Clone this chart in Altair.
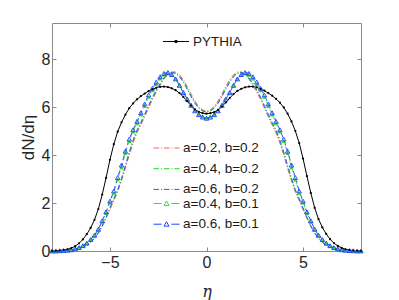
import altair as alt
import pandas as pd

# ---------------- data ----------------
ETA = [round(-8 + 0.2 * i, 1) for i in range(81)]

PYTHIA = [0.00, 0.01, 0.02, 0.04, 0.07, 0.12, 0.20, 0.32, 0.48, 0.70,
          0.96, 1.30, 1.75, 2.35, 3.05, 3.80, 4.45, 4.97, 5.36, 5.68,
          5.95, 6.15, 6.32, 6.45, 6.56, 6.66, 6.74, 6.80, 6.84, 6.85,
          6.83, 6.78, 6.70, 6.58, 6.42, 6.24, 6.06, 5.90, 5.80, 5.74,
          5.72,
          5.74, 5.79, 5.88, 6.02, 6.19, 6.37, 6.54, 6.67, 6.76, 6.82,
          6.85, 6.85, 6.82, 6.76, 6.68, 6.58, 6.47, 6.34, 6.18, 5.98,
          5.72, 5.40, 5.00, 4.50, 3.85, 3.12, 2.42, 1.80, 1.33, 0.98,
          0.71, 0.49, 0.33, 0.21, 0.13, 0.07, 0.04, 0.02, 0.01, 0.00]

A02_B02 = [0.00, 0.00, 0.00, 0.01, 0.02, 0.04, 0.06, 0.10, 0.16, 0.24,
           0.36, 0.52, 0.74, 1.02, 1.36, 1.73, 2.10, 2.46, 2.93, 3.44,
           4.00, 4.50, 4.92, 5.25, 5.59, 5.95, 6.31, 6.62, 6.91, 7.16,
           7.36, 7.46, 7.46, 7.35, 7.14, 6.86, 6.54, 6.25, 6.02, 5.88,
           5.83,
           5.88, 6.02, 6.25, 6.54, 6.86, 7.14, 7.35, 7.46, 7.46, 7.36,
           7.16, 6.91, 6.62, 6.31, 5.95, 5.59, 5.25, 4.92, 4.50, 4.00,
           3.44, 2.93, 2.46, 2.10, 1.73, 1.36, 1.02, 0.74, 0.52, 0.36,
           0.24, 0.16, 0.10, 0.06, 0.04, 0.02, 0.01, 0.00, 0.00, 0.00]

A04_B02 = [0.00, 0.00, 0.00, 0.01, 0.02, 0.04, 0.06, 0.10, 0.16, 0.25,
           0.37, 0.53, 0.75, 1.03, 1.38, 1.76, 2.14, 2.50, 2.98, 3.50,
           4.06, 4.56, 4.98, 5.30, 5.64, 6.00, 6.36, 6.66, 6.94, 7.18,
           7.36, 7.44, 7.42, 7.30, 7.08, 6.80, 6.48, 6.20, 5.98, 5.85,
           5.80,
           5.85, 5.98, 6.20, 6.48, 6.80, 7.08, 7.30, 7.42, 7.44, 7.36,
           7.18, 6.94, 6.66, 6.36, 6.00, 5.64, 5.30, 4.98, 4.56, 4.06,
           3.50, 2.98, 2.50, 2.14, 1.76, 1.38, 1.03, 0.75, 0.53, 0.37,
           0.25, 0.16, 0.10, 0.06, 0.04, 0.02, 0.01, 0.00, 0.00, 0.00]

A06_B02 = [0.00, 0.00, 0.00, 0.01, 0.02, 0.04, 0.07, 0.11, 0.17, 0.26,
           0.38, 0.55, 0.77, 1.05, 1.41, 1.79, 2.18, 2.55, 3.03, 3.56,
           4.12, 4.62, 5.04, 5.36, 5.70, 6.06, 6.41, 6.71, 6.98, 7.21,
           7.38, 7.44, 7.40, 7.26, 7.03, 6.74, 6.43, 6.16, 5.95, 5.83,
           5.78,
           5.83, 5.95, 6.16, 6.43, 6.74, 7.03, 7.26, 7.40, 7.44, 7.38,
           7.21, 6.98, 6.71, 6.41, 6.06, 5.70, 5.36, 5.04, 4.62, 4.12,
           3.56, 3.03, 2.55, 2.18, 1.79, 1.41, 1.05, 0.77, 0.55, 0.38,
           0.26, 0.17, 0.11, 0.07, 0.04, 0.02, 0.01, 0.00, 0.00, 0.00]

A04_B01 = [0.00, 0.00, 0.01, 0.02, 0.03, 0.05, 0.09, 0.14, 0.21, 0.32,
           0.46, 0.64, 0.88, 1.22, 1.58, 2.02, 2.42, 2.98, 3.48, 4.08,
           4.58, 4.98, 5.32, 5.68, 6.04, 6.42, 6.70, 6.95, 7.18, 7.34,
           7.40, 7.34, 7.18, 6.92, 6.62, 6.36, 6.10, 5.86, 5.70, 5.60,
           5.55,
           5.60, 5.70, 5.86, 6.10, 6.36, 6.62, 6.92, 7.18, 7.34, 7.40,
           7.34, 7.18, 6.95, 6.70, 6.42, 6.04, 5.68, 5.32, 4.98, 4.58,
           4.08, 3.48, 2.98, 2.42, 2.02, 1.58, 1.22, 0.88, 0.64, 0.46,
           0.32, 0.21, 0.14, 0.09, 0.05, 0.03, 0.02, 0.01, 0.00, 0.00]

A06_B01 = [0.00, 0.00, 0.01, 0.02, 0.03, 0.05, 0.09, 0.14, 0.22, 0.33,
           0.48, 0.66, 0.91, 1.26, 1.63, 2.08, 2.50, 3.06, 3.58, 4.16,
           4.66, 5.05, 5.40, 5.76, 6.13, 6.50, 6.78, 7.04, 7.26, 7.40,
           7.44, 7.35, 7.17, 6.90, 6.60, 6.33, 6.07, 5.84, 5.68, 5.58,
           5.53,
           5.58, 5.68, 5.84, 6.07, 6.33, 6.60, 6.90, 7.17, 7.35, 7.44,
           7.40, 7.26, 7.04, 6.78, 6.50, 6.13, 5.76, 5.40, 5.05, 4.66,
           4.16, 3.58, 3.06, 2.50, 2.08, 1.63, 1.26, 0.91, 0.66, 0.48,
           0.33, 0.22, 0.14, 0.09, 0.05, 0.03, 0.02, 0.01, 0.00, 0.00]

SERIES = ["a=0.2, b=0.2", "a=0.4, b=0.2", "a=0.6, b=0.2",
          "a=0.4, b=0.1", "a=0.6, b=0.1"]
VALUES = [A02_B02, A04_B02, A06_B02, A04_B01, A06_B01]

X_TICKS = [-5, 0, 5]
Y_TICKS = [0, 2, 4, 6, 8]

# ---------------- styles ----------------
LINE_COLORS = ["#ff5c5c", "#22dd22", "#4a4aff", "#7fef7f", "#3050ff"]
TRI_COLORS = ["#33dd33", "#2040ff"]
DASHES = [[5, 2, 1, 2], [5, 2, 1, 2], [5, 2, 1, 2], [5, 3], [5, 3]]
DD = "M-2,0H-1.15M-0.85,0H-0.7M-0.4,0H0.45M0.75,0H0.9M1.2,0H2"
TRI = "M-2,0H-0.75M0.75,0H2M-0.38,0.3L0,-0.38L0.38,0.3Z"
PY_SYMBOL = "M-2,0H2M-0.16,-0.16H0.16V0.16H-0.16Z"
FONT = "Liberation Sans"
FRAME = "#8a8a8a"
ROW = 18.5

py_df = pd.DataFrame({"eta": ETA, "dndeta": PYTHIA, "lab": "PYTHIA"})
rows = []
for name, vals in zip(SERIES, VALUES):
    for e, v in zip(ETA, vals):
        rows.append({"eta": e, "dndeta": v, "series": name})
mod_df = pd.DataFrame(rows)

xsc = alt.Scale(domain=[-8, 8], nice=False, zero=False)
ysc = alt.Scale(domain=[0, 9.5], nice=False, zero=False)
tick_in = {"expr": "-4"}

x_main = alt.X("eta:Q", scale=xsc, axis=alt.Axis(
    values=X_TICKS, grid=False, domain=False, tickSize=tick_in, tickColor=FRAME,
    labelFontSize=16, labelFont=FONT, labelColor="#262626", labelPadding=7,
    title="η", titleFont="DejaVu Serif", titleFontStyle="italic",
    titleFontWeight="normal", titleFontSize=16, titleColor="#262626",
    titlePadding=13))
y_main = alt.Y("dndeta:Q", scale=ysc, axis=alt.Axis(
    values=Y_TICKS, grid=False, domain=False, tickSize=tick_in, tickColor=FRAME,
    labelFontSize=16, labelFont=FONT, labelColor="#262626", labelPadding=6,
    title="dN/dη", titleFont=FONT, titleFontWeight="normal", titleFontSize=17,
    titleColor="#262626", titlePadding=4))

x_none = alt.X("eta:Q", scale=xsc, axis=None)
y_none = alt.Y("dndeta:Q", scale=ysc, axis=None)

# PYTHIA line (carries the main axes)
py_line = alt.Chart(py_df).mark_line(color="black", strokeWidth=1).encode(
    x=x_main, y=y_main)
py_pts = alt.Chart(py_df).mark_point(
    filled=True, color="black", size=5, opacity=1).encode(x=x_none, y=y_none)

# model lines, one layer per series
mod_lines = []
for name, col, dash in zip(SERIES, LINE_COLORS, DASHES):
    mod_lines.append(
        alt.Chart(mod_df).transform_filter(alt.datum.series == name)
        .mark_line(strokeWidth=1, color=col, strokeDash=dash)
        .encode(x=x_none, y=y_none))

green_tri = alt.Chart(mod_df).transform_filter(
    alt.datum.series == SERIES[3]).mark_point(
    shape="triangle-up", filled=True, color=TRI_COLORS[0], size=20, opacity=1).encode(
    x=x_none, y=y_none)
blue_tri = alt.Chart(mod_df).transform_filter(
    alt.datum.series == SERIES[4]).mark_point(
    shape="triangle-up", filled=False, color=TRI_COLORS[1], size=20, strokeWidth=0.9,
    opacity=1).encode(x=x_none, y=y_none)

# legend carriers (no visible data)
def leg(y, sym, offset):
    return alt.Legend(orient="none", legendX=offset, legendY=y, title=None,
                      symbolType=sym, symbolSize=169, symbolStrokeWidth=1,
                      labelFontSize=13.5, labelFont=FONT, labelColor="#1a1a1a",
                      labelOffset=9.5, rowPadding=6.7, padding=0)

dd_legend = alt.Chart(mod_df).transform_filter("false").mark_point(
    filled=False, size=169, strokeWidth=1, opacity=1).encode(
    x=x_none, y=y_none,
    stroke=alt.Stroke("series:N", scale=alt.Scale(domain=SERIES[:3],
                                                  range=LINE_COLORS[:3]),
                      legend=leg(118, DD, 107.5)))

tri_legend = alt.Chart(mod_df).transform_filter("false").mark_point(
    filled=False, size=169, strokeWidth=1, opacity=1).encode(
    x=x_none, y=y_none,
    color=alt.Color("series:N", scale=alt.Scale(domain=SERIES[3:],
                                                range=TRI_COLORS),
                    legend=leg(118 + 3 * ROW, TRI, 107.5)))

py_legend = alt.Chart(py_df).transform_filter("false").mark_point(
    filled=False, size=169, strokeWidth=1, color="black").encode(
    x=x_none, y=y_none,
    opacity=alt.Opacity("lab:N", scale=alt.Scale(domain=["PYTHIA"], range=[1]),
                        legend=alt.Legend(
                            orient="none", legendX=117, legendY=11.5, title=None,
                            symbolType=PY_SYMBOL, symbolSize=169, symbolStrokeWidth=1,
                            symbolStrokeColor="black", symbolFillColor="black",
                            labelFontSize=13.5, labelFont=FONT, labelColor="#1a1a1a",
                            labelOffset=10, padding=0)))

# top / right tick axes
frame = alt.Chart(py_df).mark_point(opacity=0).encode(
    x=alt.X("eta:Q", scale=xsc, axis=alt.Axis(
        orient="top", values=X_TICKS, labels=False, title=None, grid=False,
        domain=False, tickSize=tick_in, tickColor=FRAME)),
    y=alt.Y("dndeta:Q", scale=ysc, axis=alt.Axis(
        orient="right", values=Y_TICKS, labels=False, title=None, grid=False,
        domain=False, tickSize=tick_in, tickColor=FRAME)))

chart = alt.layer(
    py_line, *mod_lines, green_tri, blue_tri, py_pts,
    dd_legend, tri_legend, py_legend, frame
).resolve_axis(x="independent", y="independent").properties(
    width=309, height=228,
    padding={"left": 44, "top": 15, "right": 30, "bottom": 50},
    autosize=alt.AutoSizeParams(type="none"),
).configure_view(stroke=FRAME, strokeWidth=1)

chart.save("out.html", embed_options={"renderer": "svg", "actions": False})
